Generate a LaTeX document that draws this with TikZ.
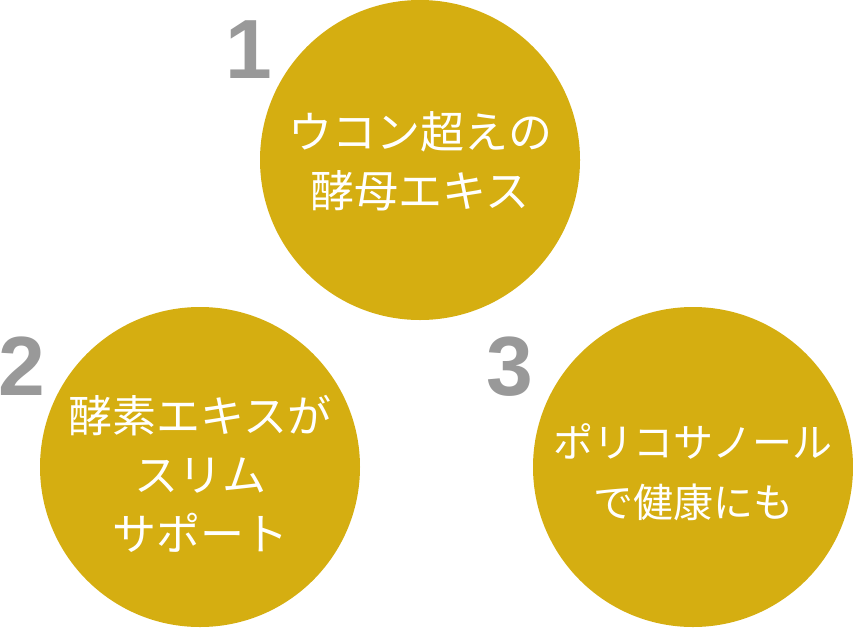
\documentclass[tikz,border=0pt]{standalone}
\usepackage{fontspec}
\newfontfamily\jpfont{Noto Sans CJK JP}
\newfontfamily\numfont{Liberation Sans}
\usetikzlibrary{positioning}
\definecolor{gold}{RGB}{213,174,17}
\definecolor{numgray}{RGB}{153,153,153}

\begin{document}
\begin{tikzpicture}[
    x=1pt, y=-1pt,
    disc/.style={circle, fill=gold, minimum size=320pt, inner sep=0pt},
    caption/.style={text=white, align=center, inner sep=0pt, font=\jpfont\fontsize{44}{59}\selectfont},
    num/.style={text=numgray, anchor=base, inner sep=0pt, font=\numfont\bfseries\fontsize{84}{84}\selectfont}
]
\useasboundingbox (0,0) rectangle (853,627);

% ----------------- 圆 -----------------
\node[disc] (circ1) at (420, 160) {};
\node[disc] (circ2) at (200, 467) {};
\node[disc] (circ3) at (693, 467) {};

% ----------------- 圆内文字 -----------------
\node[caption] (txt1) at ([yshift=-1pt]circ1.center) {ウコン超えの\\酵母エキス};
\node[caption] (txt2) at ([yshift=-7pt]circ2.center) {酵素エキスが\\スリム\\サポート};
% 第三个圆的字略小
\node[caption, font=\jpfont\fontsize{40}{60}\selectfont] (txt3) at ([yshift=-5pt]circ3.center) {ポリコサノール\\で健康にも};

% ----------------- 编号 -----------------
\node[num] (num1) at (249, 78)  {1};
\node[num] (num2) at (22, 395)  {2};
\node[num] (num3) at (510, 395) {3};

\end{tikzpicture}
\end{document}
